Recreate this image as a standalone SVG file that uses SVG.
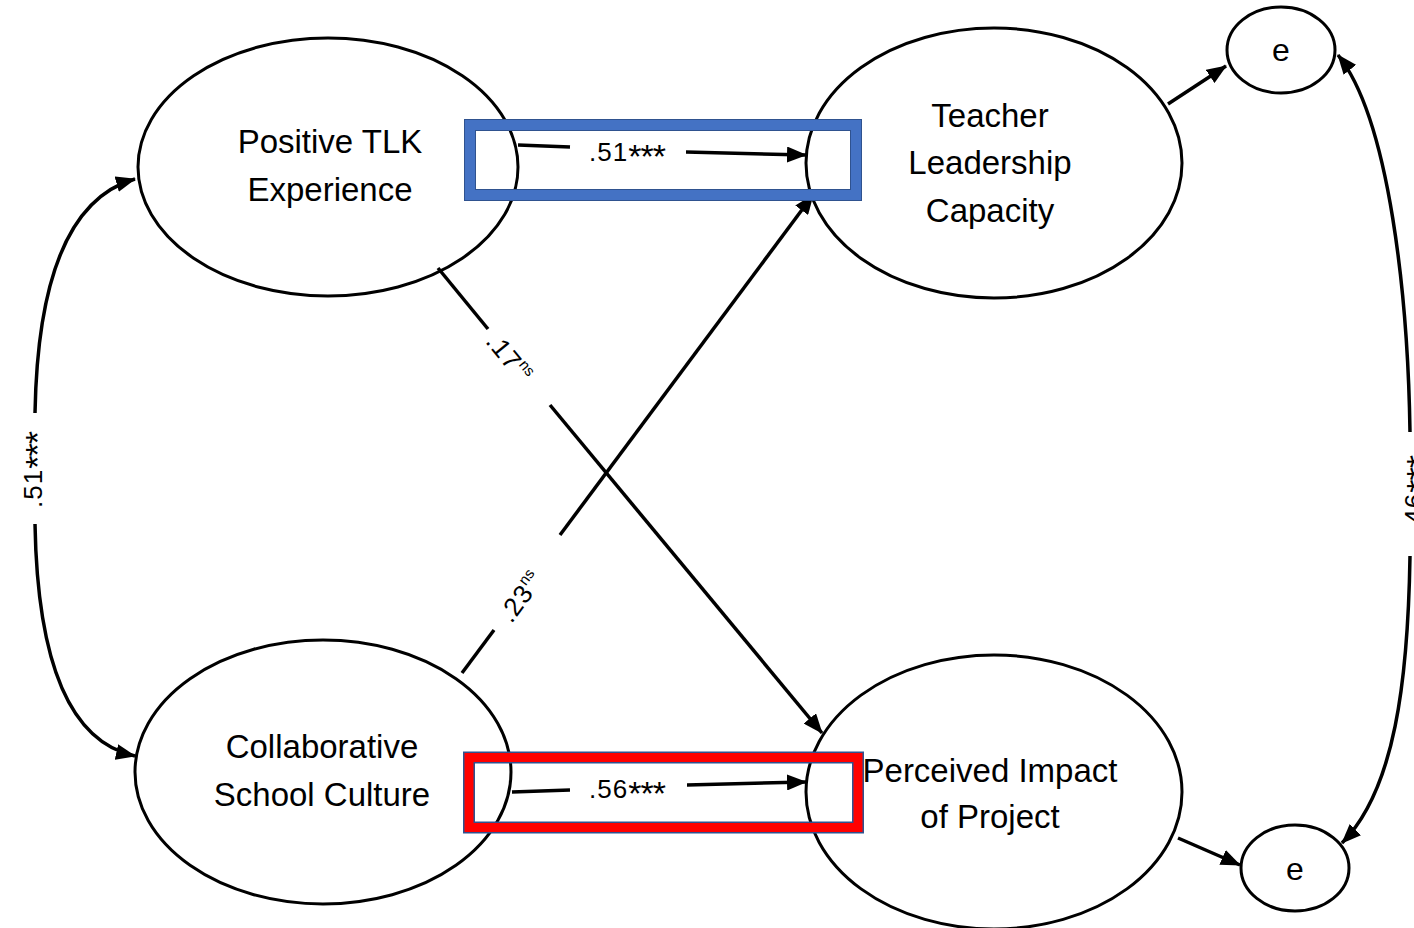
<svg xmlns="http://www.w3.org/2000/svg" width="1414" height="928" viewBox="0 0 1414 928">
<defs>
<marker id="ah" viewBox="0 0 20 16" refX="19" refY="8" markerWidth="20" markerHeight="16" markerUnits="userSpaceOnUse" orient="auto-start-reverse">
<path d="M0,0 L20,8 L0,16 Z" fill="#000"/>
</marker>
</defs>
<style>
.node{fill:#fff;stroke:#000;stroke-width:3}
.lbl{font-family:"Liberation Sans",Arial,sans-serif;font-size:33px;fill:#000;text-anchor:middle}
.e{font-family:"Liberation Sans",Arial,sans-serif;font-size:32px;fill:#000;text-anchor:middle}
.c{fill:none;stroke:#000;stroke-width:3.5}
.coef{font-family:"Liberation Sans",Arial,sans-serif;font-size:26px;fill:#000;text-anchor:middle;letter-spacing:1px}
.sup{font-size:15px;letter-spacing:0}
.ast{font-size:34px;letter-spacing:-1px}
</style>
<rect width="1414" height="928" fill="#fff"/>
<g id="n-tlk"><ellipse class="node" cx="328" cy="167" rx="190" ry="129"/><text class="lbl" x="330" y="153">Positive TLK</text><text class="lbl" x="330" y="201">Experience</text></g>
<g id="n-tlc"><ellipse class="node" cx="994" cy="163" rx="188" ry="135"/><text class="lbl" x="990" y="127">Teacher</text><text class="lbl" x="990" y="174">Leadership</text><text class="lbl" x="990" y="222">Capacity</text></g>
<g id="n-csc"><ellipse class="node" cx="323" cy="772" rx="188" ry="132"/><text class="lbl" x="322" y="758">Collaborative</text><text class="lbl" x="322" y="806">School Culture</text></g>
<g id="n-pip"><ellipse class="node" cx="994" cy="792" rx="188" ry="137"/><text class="lbl" x="990" y="782">Perceived Impact</text><text class="lbl" x="990" y="828">of Project</text></g>
<g id="n-e1"><ellipse class="node" cx="1281" cy="50" rx="54" ry="43"/><text class="e" x="1281" y="61">e</text></g>
<g id="n-e2"><ellipse class="node" cx="1295" cy="868" rx="54" ry="43"/><text class="e" x="1295" y="880">e</text></g>
<g id="connectors">
<line class="c" x1="518" y1="145" x2="570" y2="147"/>
<line class="c" x1="686" y1="152" x2="806" y2="155" marker-end="url(#ah)"/>
<text class="coef" x="627" y="161">.51<tspan class="ast" dy="7">***</tspan></text>
<line class="c" x1="512" y1="792" x2="570" y2="790"/>
<line class="c" x1="687" y1="785" x2="806" y2="782" marker-end="url(#ah)"/>
<text class="coef" x="627" y="798">.56<tspan class="ast" dy="7">***</tspan></text>
<line class="c" x1="438" y1="268" x2="488" y2="329"/>
<line class="c" x1="550" y1="405" x2="822" y2="733" marker-end="url(#ah)"/>
<text class="coef" transform="translate(513,362) rotate(50.4)" x="-6" y="9">.17<tspan class="sup" dy="-11">ns</tspan></text>
<line class="c" x1="462" y1="673" x2="494" y2="630"/>
<line class="c" x1="560" y1="535" x2="813" y2="195" marker-end="url(#ah)"/>
<text class="coef" transform="translate(524,592) rotate(-53.7)" x="-6" y="9">.23<tspan class="sup" dy="-11">ns</tspan></text>
<path class="c" d="M35,413 C37,300 60,200 135,179" marker-end="url(#ah)"/>
<path class="c" d="M35,524 C37,640 60,740 135,756" marker-end="url(#ah)"/>
<text class="coef" transform="translate(33,470) rotate(-90)" x="0" y="9">.51<tspan class="ast" dy="7">***</tspan></text>
<path class="c" d="M1410,432 C1408,300 1390,120 1338,55" marker-end="url(#ah)"/>
<path class="c" d="M1410,556 C1408,680 1395,790 1342,843" marker-end="url(#ah)"/>
<text class="coef" transform="translate(1414,494) rotate(-90)" x="0" y="9">.46<tspan class="ast" dy="7">***</tspan></text>
<line class="c" x1="1168" y1="104" x2="1226" y2="66" marker-end="url(#ah)"/>
<line class="c" x1="1178" y1="838" x2="1240" y2="865" marker-end="url(#ah)"/>
</g>
<g id="highlights" fill="none">
<rect x="470" y="125" width="386" height="70" stroke="#2F528F" stroke-width="12"/>
<rect x="470" y="125" width="386" height="70" stroke="#4472C4" stroke-width="10"/>
<rect x="469" y="757.5" width="389" height="70" stroke="#2F528F" stroke-width="12"/>
<rect x="469" y="757.5" width="389" height="70" stroke="#FF0000" stroke-width="9"/>
</g>
</svg>
